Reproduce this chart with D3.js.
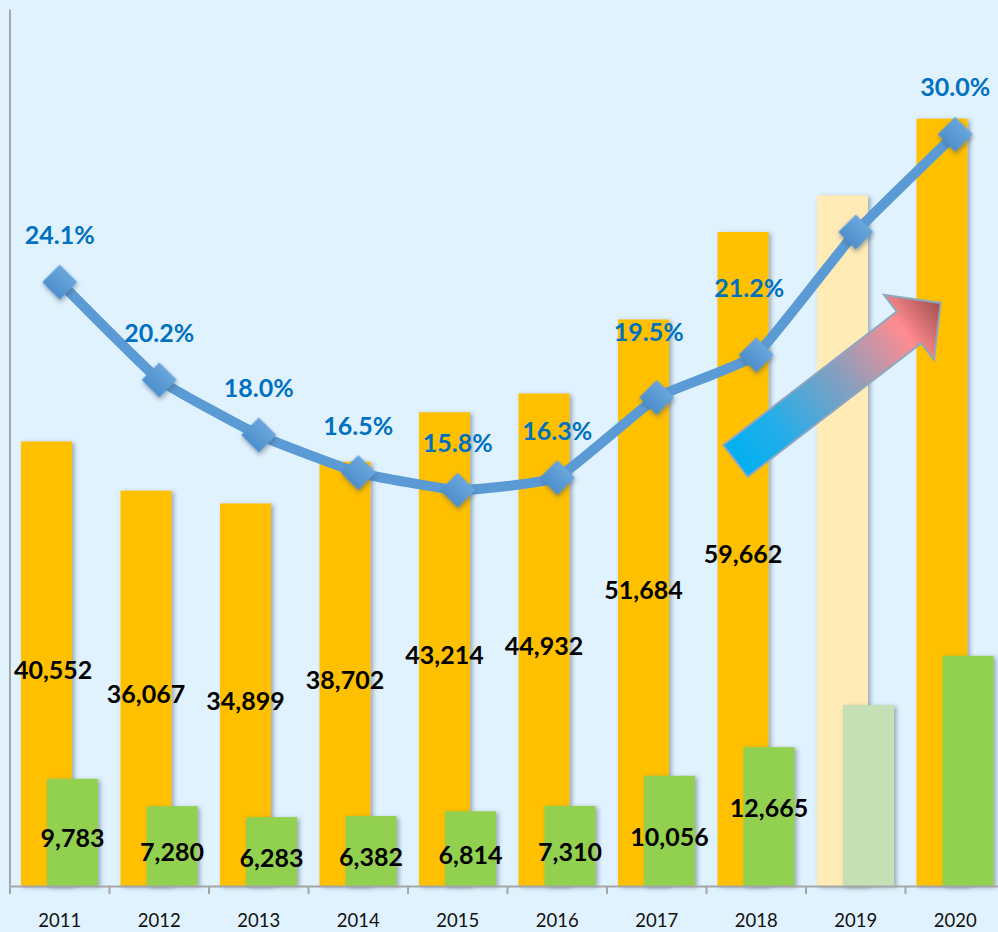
<!DOCTYPE html>
<html>
<head>
<meta charset="utf-8">
<script src="https://cdn.jsdelivr.net/npm/d3@7"></script>
<style>
body{margin:0;background:#E0F2FD;overflow:hidden;}
svg{display:block;}
</style>
</head>
<body>
<div id="graph"></div>
<script>
(function(){
"use strict";

var years = ["2011","2012","2013","2014","2015","2016","2017","2018","2019","2020"];
var totalValues = [40552,36067,34899,38702,43214,44932,51684,59662,63000,70000];
var partValues = [9783,7280,6283,6382,6814,7310,10056,12665,16500,21000];
var shareValues = [24.1,20.2,18.0,16.5,15.8,16.3,19.5,21.2,26.1,30.0];
var paleYears = ["2019"];
var barLabelYears = ["2011","2012","2013","2014","2015","2016","2017","2018"];
var shareLabelYears = ["2011","2012","2013","2014","2015","2016","2017","2018","2020"];

var width = 998, height = 932;
var base = 886, top = 9;
var fmt = d3.format(",");

// hand nudges for a few labels (the original had them dragged around)
var totalNudge = {"2017": -19, "2018": -11};
var partNudge = {"2018": -15};
var shareNudge = {"2017": [-8, -18], "2018": [-7, -20]};

var rows = years.map(function(d, i){
	return {year: d, total: totalValues[i], part: partValues[i], share: shareValues[i]};
});

var x = d3.scaleBand()
	.domain(years)
	.range([10, 1005]);
var y = d3.scaleLinear()
	.domain([0, 80000])
	.range([base, top]);
var y2 = d3.scaleLinear()
	.domain([0, 35])
	.range([base, top]);

var bw = x.bandwidth();
var barW = bw * 0.5126;

var svg = d3.select('#graph')
	.append('svg')
		.attr('width', width)
		.attr('height', height);

var defs = svg.append('defs');
var sh = defs.append('filter')
	.attr('id', 'sh')
	.attr('x', '-30%').attr('y', '-30%')
	.attr('width', '170%').attr('height', '170%');
sh.append('feDropShadow')
	.attr('dx', 2.5).attr('dy', 1.5)
	.attr('stdDeviation', 2)
	.attr('flood-color', '#3b4d60')
	.attr('flood-opacity', 0.45);

var grad = defs.append('linearGradient')
	.attr('id', 'arrowGrad')
	.attr('gradientUnits', 'userSpaceOnUse')
	.attr('x1', 0).attr('y1', 0).attr('x2', 259).attr('y2', 0);
[[0, '#00B0F0'], [0.2, '#22AEEA'], [0.5, '#7FA0C2'], [0.82, '#FF8C90'], [1, '#A24E4E']].forEach(function(s){
	grad.append('stop').attr('offset', s[0]).attr('stop-color', s[1]);
});

var mk = defs.append('linearGradient')
	.attr('id', 'mkGrad')
	.attr('x1', 0).attr('y1', 0).attr('x2', 0).attr('y2', 1);
mk.append('stop').attr('offset', 0).attr('stop-color', '#6AA6DC');
mk.append('stop').attr('offset', 1).attr('stop-color', '#4D8FCD');

// bars
svg.append('g')
	.selectAll('rect')
	.data(rows)
	.enter()
	.append('rect')
		.attr('x', function(d){ return x(d.year) + bw * 0.1106; })
		.attr('width', barW)
		.attr('y', function(d){ return y(d.total); })
		.attr('height', function(d){ return base - y(d.total); })
		.attr('fill', function(d){ return paleYears.indexOf(d.year) > -1 ? '#FFEBB5' : '#FFC000'; })
		.attr('filter', 'url(#sh)');

svg.append('g')
	.selectAll('rect')
	.data(rows)
	.enter()
	.append('rect')
		.attr('x', function(d){ return x(d.year) + bw * 0.372; })
		.attr('width', barW)
		.attr('y', function(d){ return y(d.part); })
		.attr('height', function(d){ return base - y(d.part); })
		.attr('fill', function(d){ return paleYears.indexOf(d.year) > -1 ? '#C5E0B4' : '#92D050'; })
		.attr('filter', 'url(#sh)');

// axes
var xAxis = d3.axisBottom(x)
	.tickSize(0)
	.tickSizeOuter(0)
	.tickPadding(28);

var gx = svg.append('g')
	.attr('transform', 'translate(0,' + base + ')')
	.call(xAxis);
gx.select('.domain')
	.attr('stroke', '#A6A6A6')
	.attr('stroke-width', 2);
gx.selectAll('text')
	.attr('font-family', 'Lato, sans-serif')
	.attr('font-size', 18.5)
	.attr('fill', '#111');

gx.selectAll('.edge')
	.data(years.concat(['end']))
	.enter()
	.append('line')
		.attr('class', 'edge')
		.attr('x1', function(d){ return d == 'end' ? x.range()[1] : x(d); })
		.attr('x2', function(d){ return d == 'end' ? x.range()[1] : x(d); })
		.attr('y1', 0)
		.attr('y2', 8)
		.attr('stroke', '#A6A6A6')
		.attr('stroke-width', 2);

var gy = svg.append('g')
	.attr('transform', 'translate(9.5,0)')
	.call(d3.axisLeft(y).ticks(0).tickSizeOuter(0));
gy.select('.domain')
	.attr('stroke', '#A6A6A6')
	.attr('stroke-width', 2);

// arrow
svg.append('polygon')
	.attr('points', '0,-20 219,-20 219,-41 259,0 219,41 219,20 0,20')
	.attr('transform', 'translate(735.5,461) rotate(-37.6)')
	.attr('fill', 'url(#arrowGrad)')
	.attr('stroke', '#8FA7BF')
	.attr('stroke-width', 2)
	.attr('stroke-linejoin', 'miter');

// share line
var cx = function(d){ return x(d.year) + bw / 2; };

var line = d3.line()
	.x(cx)
	.y(function(d){ return y2(d.share); })
	.curve(d3.curveCardinal.tension(0.65));

svg.append('path')
	.datum(rows)
	.attr('d', line)
	.attr('fill', 'none')
	.attr('stroke', '#5B9BD5')
	.attr('stroke-width', 10)
	.attr('stroke-linejoin', 'round');

svg.append('g')
	.selectAll('path')
	.data(rows)
	.enter()
	.append('path')
		.attr('d', d3.symbol(d3.symbolSquare, 612))
		.attr('transform', function(d){ return 'translate(' + cx(d) + ',' + y2(d.share) + ') rotate(45)'; })
		.attr('fill', 'url(#mkGrad)')
		.attr('filter', 'url(#sh)');

// labels
var lab = svg.append('g')
	.attr('font-family', 'Lato, sans-serif')
	.attr('font-weight', 'bold')
	.attr('font-size', 25)
	.attr('text-anchor', 'middle');

lab.selectAll('.tot')
	.data(rows.filter(function(d){ return barLabelYears.indexOf(d.year) > -1; }))
	.enter()
	.append('text')
		.attr('class', 'tot')
		.attr('x', function(d){ return x(d.year) + bw * 0.1106 + barW / 2; })
		.attr('y', function(d){ return (y(d.total) + base) / 2 + 15 + (totalNudge[d.year] || 0); })
		.attr('fill', '#000')
		.text(function(d){ return fmt(d.total); })
		.each(function(){
			// keep it inside the plot like excel does
			var w = this.getComputedTextLength();
			var cur = +d3.select(this).attr('x');
			if (cur - w / 2 < 14) d3.select(this).attr('x', 14 + w / 2);
		});

lab.selectAll('.part')
	.data(rows.filter(function(d){ return barLabelYears.indexOf(d.year) > -1; }))
	.enter()
	.append('text')
		.attr('class', 'part')
		.attr('x', function(d){ return x(d.year) + bw * 0.372 + barW / 2; })
		.attr('y', function(d){ return (y(d.part) + base) / 2 + 15 + (partNudge[d.year] || 0); })
		.attr('fill', '#000')
		.text(function(d){ return fmt(d.part); });

lab.selectAll('.share')
	.data(rows.filter(function(d){ return shareLabelYears.indexOf(d.year) > -1; }))
	.enter()
	.append('text')
		.attr('class', 'share')
		.attr('x', function(d){ return cx(d) + (shareNudge[d.year] ? shareNudge[d.year][0] : 0); })
		.attr('y', function(d){ return y2(d.share) - 38 + (shareNudge[d.year] ? shareNudge[d.year][1] : 0); })
		.attr('fill', '#0070C0')
		.text(function(d){ return d.share.toFixed(1) + '%'; });

})();
</script>
</body>
</html>
